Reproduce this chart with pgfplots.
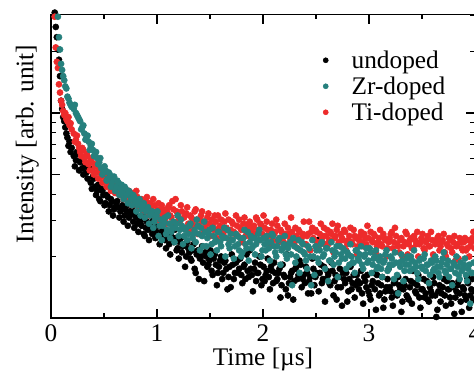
\documentclass[border=0pt]{standalone}
\usepackage{fontspec}
\setmainfont{Liberation Serif}
\usepackage{pgfplots}
\pgfplotsset{compat=1.18}
\definecolor{tealc}{RGB}{38,128,125}
\definecolor{redc}{RGB}{237,43,43}
\newcommand{\bigf}{\fontsize{19}{22}\selectfont}
\begin{document}
\begin{tikzpicture}
\begin{axis}[
  name=ax,
  scale only axis,
  width=318pt, height=227.5pt,
  xmin=0, xmax=4, ymin=0, ymax=1.48,
  xtick={0,1,2,3,4}, minor xtick={0.5,1.5,2.5,3.5},
  xticklabels={{\bigf 0},{\bigf 1},{\bigf 2},{\bigf 3},{\bigf 4}},
  ytick={0.69897,1}, yticklabels={},
  minor ytick={0.30103,0.47712,0.60206,0.77815,0.84510,0.90309,0.95424,1.30103,1.47712},
  tick align=inside,
  major tick length=6.75pt, minor tick length=3.5pt,
  axis line style={line width=0.9pt},
  every tick/.style={line width=0.9pt, black},
  xticklabel style={anchor=base, yshift=-18pt},
  xlabel={\bigf Time [µs]},
  ylabel={\bigf Intensity [arb. unit]},
  xlabel style={at={(axis description cs:0.5,0)}, anchor=base, yshift=-35.5pt},
  ylabel style={at={(axis description cs:-0.0413,0.574)}, anchor=base},
  clip=false,
  legend cell align=left,
  legend style={draw=none, fill=none, inner sep=0pt, outer sep=0pt,
    at={(axis description cs:0.642,0.8925)}, anchor=north west,
    nodes={inner sep=0pt, text height=15.9pt, text depth=3.6pt},
    column sep=17.5pt, row sep=0pt},
  legend image code/.code={\draw[#1, mark size=1.9pt] plot coordinates {(0pt,0pt)};},
]
% undoped (log10 intensity)
\addplot[only marks, mark=*, mark size=2.3pt, black] table {
0.035 1.49
0.045 1.42
0.055 1.37
0.065 1.31
0.075 1.26
0.085 1.18
0.095 1.06
0.105 1.02
0.115 0.98
0.125 0.96
0.135 0.93
0.145 0.90
0.155 0.88
0.165 0.84
0.175 0.86
0.185 0.81
0.195 0.83
0.215 0.79
0.235 0.77
0.255 0.80
0.275 0.76
0.295 0.73
0.315 0.76
0.335 0.71
0.355 0.72
0.375 0.66
0.395 0.69
0.415 0.64
0.435 0.62
0.455 0.58
0.475 0.63
0.495 0.60
0.515 0.56
0.535 0.59
0.555 0.55
0.575 0.57
0.595 0.53
0.615 0.56
0.635 0.54
0.655 0.52
0.675 0.55
0.695 0.50
0.715 0.52
0.735 0.49
0.755 0.51
0.775 0.47
0.795 0.50
0.815 0.46
0.835 0.48
0.855 0.45
0.875 0.41
0.895 0.44
0.915 0.43
0.935 0.46
0.955 0.41
0.975 0.44
0.995 0.42
1.015 0.49
1.035 0.40
1.055 0.43
1.075 0.38
1.095 0.42
1.115 0.36
1.135 0.40
1.155 0.37
1.175 0.39
1.195 0.34
1.215 0.37
1.235 0.32
1.255 0.36
1.275 0.30
1.295 0.34
1.315 0.29
1.335 0.33
1.355 0.24
1.375 0.31
1.395 0.19
1.415 0.30
1.435 0.27
1.455 0.32
1.475 0.25
1.495 0.28
1.515 0.23
1.535 0.29
1.555 0.26
1.575 0.22
1.595 0.28
1.615 0.19
1.635 0.27
1.655 0.24
1.675 0.20
1.695 0.15
1.715 0.26
1.735 0.22
1.755 0.28
1.775 0.24
1.795 0.21
1.815 0.25
1.835 0.19
1.855 0.23
1.875 0.33
1.895 0.21
1.915 0.24
1.935 0.18
1.955 0.22
1.975 0.26
1.995 0.19
2.015 0.18
2.035 0.23
2.055 0.20
2.075 0.25
2.095 0.17
2.115 0.22
2.135 0.19
2.155 0.24
2.175 0.16
2.195 0.21
2.215 0.14
2.235 0.11
2.255 0.20
2.275 0.23
2.295 0.18
2.315 0.25
2.335 0.21
2.355 0.26
2.375 0.19
2.395 0.17
2.415 0.22
2.435 0.18
2.455 0.12
2.475 0.24
2.495 0.20
2.515 0.38
2.535 0.22
2.555 0.17
2.575 0.25
2.595 0.19
2.615 0.21
2.635 0.16
2.655 0.23
2.675 0.18
2.695 0.09
2.715 0.20
2.735 0.15
2.755 0.22
2.775 0.17
2.795 0.08
2.815 0.19
2.835 0.14
2.855 0.21
2.875 0.16
2.895 0.18
2.915 0.17
2.935 0.12
2.955 0.20
2.975 0.15
2.995 0.13
3.015 0.09
3.035 0.18
3.055 0.14
3.075 0.21
3.095 0.11
3.115 0.16
3.135 0.05
3.155 0.13
3.175 0.19
3.195 0.15
3.215 0.10
3.235 0.17
3.255 0.12
3.275 0.20
3.295 0.14
3.315 0.08
3.335 0.16
3.355 0.11
3.375 0.09
3.395 0.18
3.415 0.23
3.435 0.13
3.455 0.16
3.475 0.10
3.495 0.14
3.515 0.19
3.535 0.12
3.555 0.09
3.575 0.15
3.595 0.11
3.615 0.17
3.635 0.005
3.655 0.13
3.675 0.08
3.695 0.15
3.715 0.11
3.735 0.18
3.755 0.14
3.775 0.07
3.795 0.15
3.815 0.10
3.835 0.16
3.855 0.12
3.875 0.03
3.895 0.14
3.915 0.09
3.935 0.17
3.955 0.11
3.975 0.19
3.995 0.13
0.225 0.74
0.245 0.81
0.265 0.72
0.285 0.77
0.305 0.70
0.325 0.74
0.345 0.68
0.365 0.73
0.385 0.63
0.405 0.68
0.425 0.60
0.445 0.65
0.465 0.57
0.485 0.62
0.505 0.55
0.525 0.60
0.545 0.52
0.565 0.58
0.585 0.50
0.605 0.54
0.625 0.57
0.645 0.49
0.665 0.53
0.685 0.47
0.705 0.54
0.725 0.45
0.745 0.50
0.765 0.53
0.785 0.44
0.805 0.49
0.825 0.42
0.845 0.47
0.865 0.50
0.885 0.40
0.905 0.47
0.925 0.38
0.945 0.44
0.965 0.48
0.985 0.39
1.005 0.45
1.025 0.36
1.045 0.42
1.065 0.46
1.085 0.34
1.105 0.40
1.125 0.31
1.145 0.38
1.165 0.43
1.185 0.33
1.205 0.29
1.225 0.39
1.245 0.35
1.265 0.25
1.285 0.37
1.305 0.32
1.325 0.28
1.345 0.36
1.365 0.22
1.385 0.33
1.405 0.29
1.425 0.35
1.445 0.18
1.465 0.30
1.485 0.26
1.505 0.33
1.525 0.21
1.545 0.31
1.565 0.16
1.585 0.25
1.605 0.30
1.625 0.22
1.645 0.28
1.665 0.14
1.685 0.25
1.705 0.31
1.725 0.19
1.745 0.27
1.765 0.22
1.785 0.29
1.805 0.17
1.825 0.26
1.845 0.31
1.865 0.20
1.885 0.24
1.905 0.13
1.925 0.27
1.945 0.22
1.965 0.30
1.985 0.16
2.005 0.25
2.025 0.21
2.045 0.29
2.065 0.14
2.085 0.23
2.105 0.27
2.125 0.18
2.145 0.22
2.165 0.10
2.185 0.26
2.205 0.20
2.225 0.31
2.245 0.17
2.265 0.22
2.285 0.09
2.305 0.24
2.325 0.19
2.345 0.28
2.365 0.15
2.385 0.21
2.405 0.25
2.425 0.12
2.445 0.20
2.465 0.29
2.485 0.16
2.505 0.22
2.525 0.13
2.545 0.26
2.565 0.19
2.585 0.08
2.605 0.23
2.625 0.17
2.645 0.27
2.665 0.11
2.685 0.21
2.705 0.15
2.725 0.24
2.745 0.06
2.765 0.19
2.785 0.22
2.805 0.13
2.825 0.25
2.845 0.17
2.865 0.10
2.885 0.21
2.905 0.14
2.925 0.23
2.945 0.07
2.965 0.18
2.985 0.21
3.005 0.11
3.025 0.16
3.045 0.22
3.065 0.04
3.085 0.17
3.105 0.12
3.125 0.20
3.145 0.09
3.165 0.15
3.185 0.24
3.205 0.13
3.225 0.06
3.245 0.18
3.265 0.11
3.285 0.16
3.305 0.03
3.325 0.14
3.345 0.19
3.365 0.10
3.385 0.15
3.405 0.07
3.425 0.17
3.445 0.12
3.465 0.21
3.485 0.05
3.505 0.14
3.525 0.10
3.545 0.18
3.565 0.08
3.585 0.13
3.605 0.20
3.625 0.11
3.645 0.04
3.665 0.16
3.685 0.12
3.705 0.19
3.725 0.06
3.745 0.14
3.765 0.10
3.785 0.17
3.805 0.02
3.825 0.13
3.845 0.18
3.865 0.08
3.885 0.15
3.905 0.11
3.925 0.20
3.945 0.05
3.965 0.14
3.985 0.09
};
\addlegendentry{\bigf undoped}
% Ti-doped (drawn before Zr-doped)
\addplot[only marks, mark=*, mark size=2.3pt, redc, forget plot] table {
0.035 1.47
0.045 1.32
0.055 1.25
0.065 1.22
0.075 1.14
0.085 1.10
0.095 1.06
0.105 1.04
0.115 1.01
0.125 0.99
0.135 1.00
0.145 0.97
0.155 0.96
0.165 0.98
0.175 0.94
0.185 0.95
0.195 0.92
0.215 0.90
0.235 0.87
0.255 0.85
0.275 0.81
0.295 0.83
0.315 0.78
0.335 0.80
0.355 0.75
0.375 0.77
0.395 0.72
0.415 0.74
0.435 0.71
0.455 0.73
0.475 0.69
0.495 0.71
0.515 0.67
0.535 0.69
0.555 0.65
0.575 0.68
0.595 0.64
0.615 0.66
0.635 0.62
0.655 0.65
0.675 0.61
0.695 0.63
0.715 0.60
0.735 0.62
0.755 0.58
0.775 0.61
0.795 0.57
0.815 0.59
0.835 0.55
0.855 0.58
0.875 0.54
0.895 0.57
0.915 0.53
0.935 0.56
0.955 0.52
0.975 0.55
0.995 0.51
1.015 0.56
1.035 0.50
1.055 0.53
1.075 0.48
1.095 0.52
1.115 0.55
1.135 0.49
1.155 0.53
1.175 0.58
1.195 0.50
1.215 0.47
1.235 0.52
1.255 0.49
1.275 0.51
1.295 0.46
1.315 0.50
1.335 0.47
1.355 0.52
1.375 0.48
1.395 0.45
1.415 0.50
1.435 0.47
1.455 0.44
1.475 0.49
1.495 0.46
1.515 0.48
1.535 0.43
1.555 0.47
1.575 0.50
1.595 0.45
1.615 0.42
1.635 0.47
1.655 0.44
1.675 0.48
1.695 0.43
1.715 0.46
1.735 0.41
1.755 0.45
1.775 0.48
1.795 0.43
1.815 0.46
1.835 0.40
1.855 0.44
1.875 0.47
1.895 0.42
1.915 0.45
1.935 0.49
1.955 0.43
1.975 0.46
1.995 0.41
2.015 0.44
2.035 0.47
2.055 0.40
2.075 0.43
2.095 0.38
2.115 0.42
2.135 0.45
2.155 0.39
2.175 0.42
2.195 0.37
2.215 0.41
2.235 0.44
2.255 0.39
2.275 0.42
2.295 0.36
2.315 0.40
2.335 0.43
2.355 0.38
2.375 0.41
2.395 0.36
2.415 0.40
2.435 0.47
2.455 0.42
2.475 0.39
2.495 0.43
2.515 0.37
2.535 0.41
2.555 0.38
2.575 0.44
2.595 0.40
2.615 0.36
2.635 0.42
2.655 0.46
2.675 0.39
2.695 0.43
2.715 0.37
2.735 0.41
2.755 0.38
2.775 0.42
2.795 0.36
2.815 0.40
2.835 0.37
2.855 0.43
2.875 0.39
2.895 0.35
2.915 0.40
2.935 0.37
2.955 0.41
2.975 0.36
2.995 0.39
3.015 0.42
3.035 0.37
3.055 0.40
3.075 0.35
3.095 0.39
3.115 0.36
3.135 0.41
3.155 0.38
3.175 0.34
3.195 0.39
3.215 0.42
3.235 0.37
3.255 0.40
3.275 0.35
3.295 0.38
3.315 0.30
3.335 0.37
3.355 0.41
3.375 0.36
3.395 0.39
3.415 0.34
3.435 0.38
3.455 0.42
3.475 0.36
3.495 0.39
3.515 0.34
3.535 0.37
3.555 0.40
3.575 0.35
3.595 0.38
3.615 0.29
3.635 0.37
3.655 0.40
3.675 0.35
3.695 0.38
3.715 0.32
3.735 0.36
3.755 0.39
3.775 0.34
3.795 0.37
3.815 0.28
3.835 0.36
3.855 0.39
3.875 0.34
3.895 0.37
3.915 0.33
3.935 0.38
3.955 0.35
3.975 0.39
3.995 0.34
0.225 0.86
0.245 0.89
0.265 0.83
0.285 0.79
0.305 0.82
0.325 0.76
0.345 0.79
0.365 0.72
0.385 0.76
0.405 0.70
0.425 0.75
0.445 0.68
0.465 0.72
0.485 0.66
0.505 0.70
0.525 0.64
0.545 0.68
0.565 0.62
0.585 0.67
0.605 0.61
0.625 0.65
0.645 0.60
0.665 0.63
0.685 0.58
0.705 0.62
0.725 0.57
0.745 0.60
0.765 0.55
0.785 0.59
0.805 0.62
0.825 0.54
0.845 0.57
0.865 0.52
0.885 0.56
0.905 0.59
0.925 0.50
0.945 0.54
0.965 0.58
0.985 0.49
1.005 0.53
1.025 0.47
1.045 0.55
1.065 0.51
1.085 0.46
1.105 0.54
1.125 0.50
1.145 0.57
1.165 0.45
1.185 0.52
1.205 0.48
1.225 0.55
1.245 0.44
1.265 0.50
1.285 0.54
1.305 0.43
1.325 0.49
1.345 0.45
1.365 0.53
1.385 0.41
1.405 0.48
1.425 0.52
1.445 0.42
1.465 0.46
1.485 0.51
1.505 0.40
1.525 0.45
1.545 0.50
1.565 0.39
1.585 0.44
1.605 0.48
1.625 0.41
1.645 0.51
1.665 0.43
1.685 0.38
1.705 0.47
1.725 0.42
1.745 0.50
1.765 0.40
1.785 0.44
1.805 0.37
1.825 0.49
1.845 0.42
1.865 0.46
1.885 0.39
1.905 0.44
1.925 0.41
1.945 0.48
1.965 0.38
1.985 0.45
2.005 0.50
2.025 0.39
2.045 0.43
2.065 0.36
2.085 0.46
2.105 0.41
2.125 0.48
2.145 0.37
2.165 0.43
2.185 0.39
2.205 0.46
2.225 0.35
2.245 0.41
2.265 0.49
2.285 0.38
2.305 0.44
2.325 0.34
2.345 0.42
2.365 0.39
2.385 0.47
2.405 0.36
2.425 0.41
2.445 0.33
2.465 0.44
2.485 0.38
2.505 0.42
2.525 0.35
2.545 0.46
2.565 0.40
2.585 0.36
2.605 0.43
2.625 0.38
2.645 0.41
2.665 0.32
2.685 0.40
2.705 0.45
2.725 0.35
2.745 0.39
2.765 0.43
2.785 0.33
2.805 0.38
2.825 0.44
2.845 0.36
2.865 0.40
2.885 0.31
2.905 0.38
2.925 0.42
2.945 0.35
2.965 0.39
2.985 0.45
3.005 0.34
3.025 0.38
3.045 0.41
3.065 0.32
3.085 0.37
3.105 0.43
3.125 0.35
3.145 0.39
3.165 0.30
3.185 0.37
3.205 0.41
3.225 0.34
3.245 0.44
3.265 0.36
3.285 0.32
3.305 0.39
3.325 0.35
3.345 0.42
3.365 0.31
3.385 0.38
3.405 0.34
3.425 0.40
3.445 0.36
3.465 0.30
3.485 0.37
3.505 0.41
3.525 0.33
3.545 0.38
3.565 0.35
3.585 0.42
3.605 0.31
3.625 0.36
3.645 0.39
3.665 0.33
3.685 0.37
3.705 0.41
3.725 0.30
3.745 0.35
3.765 0.38
3.785 0.32
3.805 0.40
3.825 0.35
3.845 0.29
3.865 0.37
3.885 0.33
3.905 0.39
3.925 0.34
3.945 0.30
3.965 0.37
3.985 0.42
};
% Zr-doped
\addplot[only marks, mark=*, mark size=2.3pt, tealc] table {
0.065 1.47
0.075 1.37
0.085 1.31
0.095 1.24
0.105 1.21
0.115 1.18
0.125 1.16
0.135 1.13
0.145 1.12
0.155 1.08
0.165 1.07
0.175 1.05
0.185 1.04
0.195 1.03
0.215 1.02
0.235 1.00
0.255 0.98
0.275 0.96
0.295 0.93
0.315 0.90
0.335 0.88
0.355 0.86
0.375 0.84
0.395 0.82
0.415 0.80
0.435 0.78
0.455 0.76
0.475 0.73
0.495 0.71
0.515 0.72
0.535 0.68
0.555 0.70
0.575 0.66
0.595 0.69
0.615 0.64
0.635 0.66
0.655 0.63
0.675 0.61
0.695 0.64
0.715 0.60
0.735 0.62
0.755 0.58
0.775 0.60
0.795 0.57
0.815 0.55
0.835 0.58
0.855 0.53
0.875 0.56
0.895 0.52
0.915 0.54
0.935 0.50
0.955 0.52
0.975 0.47
0.995 0.50
1.015 0.40
1.035 0.48
1.055 0.45
1.075 0.49
1.095 0.43
1.115 0.46
1.135 0.42
1.155 0.47
1.175 0.44
1.195 0.50
1.215 0.43
1.235 0.45
1.255 0.40
1.275 0.44
1.295 0.41
1.315 0.46
1.335 0.39
1.355 0.43
1.375 0.48
1.395 0.41
1.415 0.44
1.435 0.35
1.455 0.42
1.475 0.39
1.495 0.43
1.515 0.36
1.535 0.40
1.555 0.38
1.575 0.42
1.595 0.37
1.615 0.40
1.635 0.44
1.655 0.39
1.675 0.36
1.695 0.41
1.715 0.38
1.735 0.35
1.755 0.40
1.775 0.33
1.795 0.30
1.815 0.39
1.835 0.36
1.855 0.42
1.875 0.37
1.895 0.34
1.915 0.39
1.935 0.36
1.955 0.41
1.975 0.38
1.995 0.33
2.015 0.36
2.035 0.40
2.055 0.34
2.075 0.37
2.095 0.40
2.115 0.32
2.135 0.35
2.155 0.39
2.175 0.33
2.195 0.36
2.215 0.31
2.235 0.34
2.255 0.37
2.275 0.16
2.295 0.35
2.315 0.30
2.335 0.38
2.355 0.33
2.375 0.36
2.395 0.31
2.415 0.24
2.435 0.34
2.455 0.16
2.475 0.30
2.495 0.35
2.515 0.29
2.535 0.33
2.555 0.37
2.575 0.31
2.595 0.34
2.615 0.18
2.635 0.28
2.655 0.33
2.675 0.30
2.695 0.35
2.715 0.27
2.735 0.31
2.755 0.34
2.775 0.29
2.795 0.32
2.815 0.26
2.835 0.30
2.855 0.27
2.875 0.33
2.895 0.29
2.915 0.31
2.935 0.26
2.955 0.30
2.975 0.34
2.995 0.28
3.015 0.32
3.035 0.26
3.055 0.30
3.075 0.24
3.095 0.28
3.115 0.24
3.135 0.27
3.155 0.31
3.175 0.23
3.195 0.26
3.215 0.29
3.235 0.19
3.255 0.27
3.275 0.12
3.295 0.25
3.315 0.28
3.335 0.23
3.355 0.29
3.375 0.26
3.395 0.30
3.415 0.24
3.435 0.27
3.455 0.22
3.475 0.28
3.495 0.25
3.515 0.29
3.535 0.23
3.555 0.26
3.575 0.21
3.595 0.27
3.615 0.24
3.635 0.28
3.655 0.22
3.675 0.25
3.695 0.29
3.715 0.23
3.735 0.26
3.755 0.20
3.775 0.24
3.795 0.27
3.815 0.22
3.835 0.25
3.855 0.19
3.875 0.23
3.895 0.26
3.915 0.21
3.935 0.24
3.955 0.07
3.975 0.22
0.225 1.04
0.245 0.99
0.265 0.97
0.285 0.92
0.305 0.94
0.325 0.87
0.345 0.89
0.365 0.82
0.385 0.85
0.405 0.79
0.425 0.81
0.445 0.75
0.465 0.78
0.485 0.70
0.505 0.74
0.525 0.67
0.545 0.71
0.565 0.64
0.585 0.68
0.605 0.62
0.625 0.67
0.645 0.60
0.665 0.65
0.685 0.58
0.705 0.63
0.725 0.56
0.745 0.61
0.765 0.55
0.785 0.59
0.805 0.52
0.825 0.56
0.845 0.50
0.865 0.55
0.885 0.49
0.905 0.53
0.925 0.46
0.945 0.51
0.965 0.44
0.985 0.49
1.005 0.52
1.025 0.45
1.045 0.38
1.065 0.47
1.085 0.41
1.105 0.50
1.125 0.39
1.145 0.44
1.165 0.37
1.185 0.46
1.205 0.40
1.225 0.48
1.245 0.36
1.265 0.43
1.285 0.38
1.305 0.45
1.325 0.34
1.345 0.41
1.365 0.37
1.385 0.45
1.405 0.33
1.425 0.40
1.445 0.47
1.465 0.35
1.485 0.41
1.505 0.31
1.525 0.44
1.545 0.37
1.565 0.33
1.585 0.42
1.605 0.35
1.625 0.39
1.645 0.30
1.665 0.43
1.685 0.34
1.705 0.38
1.725 0.29
1.745 0.41
1.765 0.36
1.785 0.39
1.805 0.32
1.825 0.43
1.845 0.34
1.865 0.28
1.885 0.40
1.905 0.35
1.925 0.31
1.945 0.38
1.965 0.43
1.985 0.30
2.005 0.39
2.025 0.33
2.045 0.37
2.065 0.28
2.085 0.41
2.105 0.35
2.125 0.30
2.145 0.38
2.165 0.26
2.185 0.34
2.205 0.40
2.225 0.29
2.245 0.36
2.265 0.31
2.285 0.39
2.305 0.27
2.325 0.34
2.345 0.22
2.365 0.37
2.385 0.32
2.405 0.28
2.425 0.35
2.445 0.30
2.465 0.38
2.485 0.21
2.505 0.33
2.525 0.27
2.545 0.36
2.565 0.30
2.585 0.24
2.605 0.34
2.625 0.28
2.645 0.37
2.665 0.26
2.685 0.32
2.705 0.20
2.725 0.35
2.745 0.29
2.765 0.33
2.785 0.24
2.805 0.31
2.825 0.36
2.845 0.27
2.865 0.22
2.885 0.33
2.905 0.28
2.925 0.35
2.945 0.24
2.965 0.31
2.985 0.27
3.005 0.34
3.025 0.22
3.045 0.29
3.065 0.33
3.085 0.25
3.105 0.30
3.125 0.20
3.145 0.28
3.165 0.33
3.185 0.24
3.205 0.30
3.225 0.26
3.245 0.32
3.265 0.21
3.285 0.27
3.305 0.31
3.325 0.18
3.345 0.26
3.365 0.30
3.385 0.23
3.405 0.28
3.425 0.33
3.445 0.25
3.465 0.19
3.485 0.29
3.505 0.24
3.525 0.31
3.545 0.26
3.565 0.17
3.585 0.28
3.605 0.23
3.625 0.30
3.645 0.25
3.665 0.20
3.685 0.27
3.705 0.32
3.725 0.22
3.745 0.28
3.765 0.24
3.785 0.16
3.805 0.26
3.825 0.30
3.845 0.21
3.865 0.27
3.885 0.24
3.905 0.29
3.925 0.18
3.945 0.26
3.965 0.22
3.985 0.27
};
\addlegendentry{\bigf Zr-doped}
\addlegendimage{only marks, mark=*, redc}
\addlegendentry{\bigf Ti-doped}
\end{axis}
\pgfresetboundingbox
\path[use as bounding box] ([xshift=-38.25pt,yshift=-41.25pt]ax.south west) rectangle ([xshift=-0.75pt,yshift=11pt]ax.north east);
\end{tikzpicture}
\end{document}
